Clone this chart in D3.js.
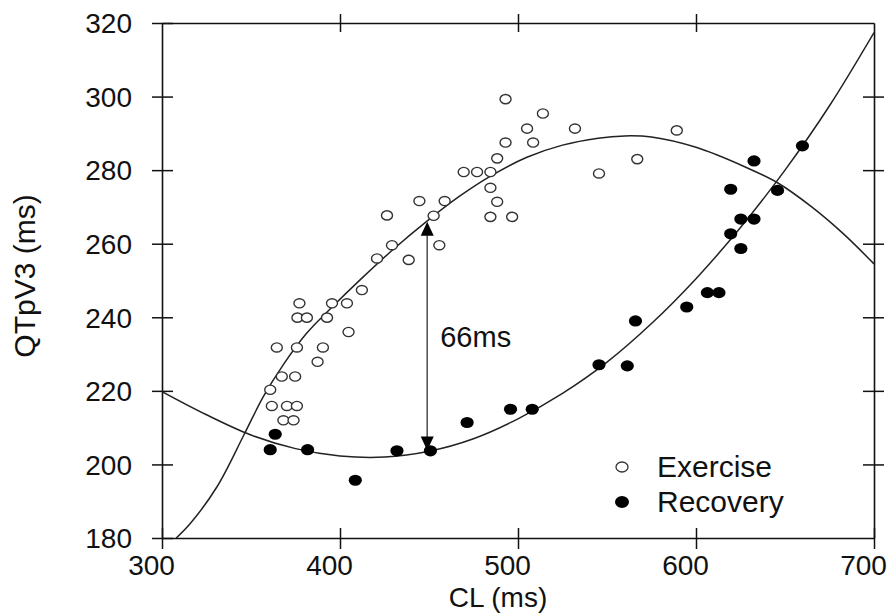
<!DOCTYPE html>
<html><head><meta charset="utf-8">
<script src="https://cdn.jsdelivr.net/npm/d3@7"></script>
<style>
html,body{margin:0;padding:0;background:#fff;}
svg{display:block;font-family:"Liberation Sans",Arial,Helvetica,sans-serif;}
</style></head>
<body>
<svg id="chart" width="890" height="616"></svg>
<script>
// ---------- data ----------
const xTicks = [300, 400, 500, 600, 700];
const yTicks = [180, 200, 220, 240, 260, 280, 300, 320];

const exerciseCL = [361.7,370.2,375.8,368.2,373.9,360.8,367.3,374.8,364.5,375.8,390.4,387.4,376.1,381.4,392.7,377.2,395.5,403.9,404.8,412.3,420.8,438.6,429.2,455.8,426.4,452.6,484.5,496.7,444.6,458.8,488.3,484.5,469.5,477,484.5,488.3,493,508.5,505.1,532,514,493,545.5,567,589.2];
const exerciseQT = [215.9,215.9,215.9,212.0,212.0,220.3,223.9,223.9,231.8,231.8,231.8,227.9,239.9,239.9,239.9,243.8,243.8,243.8,236.0,247.4,256.0,255.6,259.6,259.6,267.7,267.6,267.3,267.3,271.6,271.6,271.4,275.2,279.5,279.5,279.5,283.2,287.5,287.5,291.3,291.3,295.4,299.3,279.1,283.0,290.8];

const recoveryCL = [360.8,363.6,381.8,408.6,432,450.8,471.4,495.8,508,545.5,561.4,566,594.8,606.4,612.9,619.5,625.2,625.2,632.6,619.5,645.8,632.6,659.8];
const recoveryQT = [204.0,208.2,204.0,195.7,203.7,203.7,211.4,215.0,215.0,227.1,226.8,239.0,242.8,246.7,246.7,262.7,258.7,266.7,266.7,274.8,274.5,282.5,286.6];

// fitted curves as drawn in the picture (sampled)
const exFitCL = [308,316,331,346,357,368,381,395,412,430,448,466,485,505,525,545,560,575,600,627,646,665,683,700];
const exFitQT = [180,184,194,208,218.5,227,235.5,242.5,250.5,258.5,265.8,272.5,278.5,283.5,286.8,288.7,289.3,289,286.2,281,276.5,270,262.6,254.5];
const recFitCL = [300,325,350,375,400,425,450,475,500,525,550,575,600,625,650,675,700];
const recFitQT = [219.8,213.5,208,204.3,202.3,202,203.6,207,212.4,219.3,227.8,238.3,250.5,264.4,280,297.5,317.4];

// annotation
const arrowCL = 449;
const arrowFrom = 203.8;
const arrowTo = 266;
const arrowLabel = "66ms";
const seriesNames = ["Exercise", "Recovery"];

// ---------- drawing ----------
const svg = d3.select("#chart");
const L = 162, R = 874, T = 23, B = 538;
const x = d3.scaleLinear().domain([300, 700]).range([L, R]);
const y = d3.scaleLinear().domain([180, 320]).range([B, T]);
const ink = "#111";
const fs = 28;

// frame + axes
const gB = svg.append("g").attr("transform", `translate(0,${B})`)
  .call(d3.axisBottom(x).tickValues(xTicks).tickSizeOuter(0).tickFormat(d3.format("d")));
const gL = svg.append("g").attr("transform", `translate(${L},0)`)
  .call(d3.axisLeft(y).tickValues(yTicks).tickSizeOuter(0).tickFormat(d3.format("d")));
const gT = svg.append("g").attr("transform", `translate(0,${T})`)
  .call(d3.axisTop(x).tickValues(xTicks.slice(1, -1)).tickSizeOuter(0).tickFormat(""));
const gR = svg.append("g").attr("transform", `translate(${R},0)`)
  .call(d3.axisRight(y).tickValues(yTicks.slice(1, -1)).tickSizeOuter(0).tickFormat(""));

[gB, gL, gT, gR].forEach(g => {
  g.select(".domain").attr("stroke", ink).attr("stroke-width", 1.6);
  g.selectAll(".tick line").attr("stroke", ink).attr("stroke-width", 1.5);
  g.selectAll("text").attr("fill", ink).attr("font-size", fs)
    .attr("font-family", "'Liberation Sans',Arial,sans-serif");
});
gB.selectAll(".tick line").attr("y1", -10).attr("y2", 11);
gB.selectAll(".tick text").attr("y", 37).attr("dy", null).attr("x", -11);
gL.selectAll(".tick line").attr("x1", -10).attr("x2", 11);
gL.selectAll(".tick text").attr("x", -30).attr("dy", "0.35em");
gT.selectAll(".tick line").attr("y1", -9).attr("y2", 9);
gR.selectAll(".tick line").attr("x1", -11).attr("x2", 10);

// axis titles
svg.append("text").attr("x", (L + R) / 2 - 20).attr("y", 607)
  .attr("text-anchor", "middle").attr("font-size", fs).attr("fill", ink).text("CL (ms)");
svg.append("text").attr("transform", `translate(35,${276}) rotate(-90)`)
  .attr("text-anchor", "middle").attr("font-size", 30).attr("fill", ink).text("QTpV3 (ms)");

// clip
svg.append("clipPath").attr("id", "clip").append("rect")
  .attr("x", L).attr("y", T).attr("width", R - L).attr("height", B - T);

const line = d3.line().x(d => x(d[0])).y(d => y(d[1])).curve(d3.curveCatmullRom);
const plot = svg.append("g").attr("clip-path", "url(#clip)");
plot.append("path").datum(d3.zip(exFitCL, exFitQT)).attr("d", line)
  .attr("fill", "none").attr("stroke", "#222").attr("stroke-width", 1.5);
plot.append("path").datum(d3.zip(recFitCL, recFitQT)).attr("d", line)
  .attr("fill", "none").attr("stroke", "#222").attr("stroke-width", 1.5);

// points
svg.append("g").selectAll("ellipse").data(d3.zip(exerciseCL, exerciseQT)).join("ellipse")
  .attr("cx", d => x(d[0])).attr("cy", d => y(d[1]))
  .attr("rx", 5.5).attr("ry", 4.6).attr("fill", "#fff").attr("stroke", "#333").attr("stroke-width", 1.4);
svg.append("g").selectAll("ellipse").data(d3.zip(recoveryCL, recoveryQT)).join("ellipse")
  .attr("cx", d => x(d[0])).attr("cy", d => y(d[1]))
  .attr("rx", 6.6).attr("ry", 5.6).attr("fill", "#000");

// arrow
const ax = x(arrowCL), aTop = y(arrowTo), aBot = y(arrowFrom);
svg.append("line").attr("x1", ax).attr("x2", ax).attr("y1", aTop + 8).attr("y2", aBot - 8)
  .attr("stroke", "#555").attr("stroke-width", 1.6);
svg.append("path").attr("d", `M${ax},${aTop} L${ax - 6.5},${aTop + 14} L${ax + 6.5},${aTop + 14} Z`).attr("fill", "#000");
svg.append("path").attr("d", `M${ax},${aBot} L${ax - 6.5},${aBot - 14} L${ax + 6.5},${aBot - 14} Z`).attr("fill", "#000");
svg.append("text").attr("x", ax + 13).attr("y", 347).attr("font-size", 29).attr("fill", ink).text(arrowLabel);

// legend
const leg = svg.append("g");
leg.append("ellipse").attr("cx", 622).attr("cy", 467).attr("rx", 6).attr("ry", 5)
  .attr("fill", "#fff").attr("stroke", "#333").attr("stroke-width", 1.3);
leg.append("ellipse").attr("cx", 622).attr("cy", 502).attr("rx", 7).attr("ry", 6).attr("fill", "#000");
leg.append("text").attr("x", 657).attr("y", 477).attr("font-size", 30).attr("fill", ink).text(seriesNames[0]);
leg.append("text").attr("x", 657).attr("y", 512).attr("font-size", 30).attr("fill", ink).text(seriesNames[1]);
</script>
</body></html>
